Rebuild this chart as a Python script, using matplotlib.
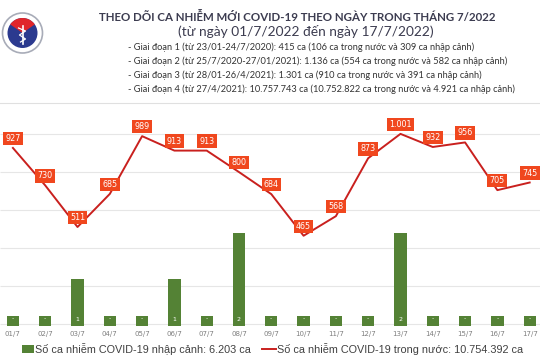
import matplotlib
matplotlib.use("Agg")
import matplotlib.pyplot as plt
from matplotlib.patches import Circle, Wedge, Rectangle
from matplotlib.lines import Line2D

# data
days = ["01/7", "02/7", "03/7", "04/7", "05/7", "06/7", "07/7", "08/7", "09/7",
        "10/7", "11/7", "12/7", "13/7", "14/7", "15/7", "16/7", "17/7"]
trong_nuoc = [927, 730, 511, 685, 989, 913, 913, 800, 684, 465, 568, 873, 1001, 932, 956, 705, 745]
nhap_canh = [0, 0, 1, 0, 0, 1, 0, 2, 0, 0, 0, 0, 2, 0, 0, 0, 0]
grid_vals = [0, 200, 400, 600, 800, 1000]

title = "THEO DÕI CA NHIỄM MỚI COVID-19 THEO NGÀY TRONG THÁNG 7/2022"
subtitle = "(từ ngày 01/7/2022 đến ngày 17/7/2022)"
notes = [
    "- Giai đoạn 1 (từ 23/01-24/7/2020): 415 ca (106 ca trong nước và 309 ca nhập cảnh)",
    "- Giai đoạn 2 (từ 25/7/2020-27/01/2021): 1.136 ca (554 ca trong nước và 582 ca nhập cảnh)",
    "- Giai đoạn 3 (từ 28/01-26/4/2021): 1.301 ca (910 ca trong nước và 391 ca nhập cảnh)",
    "- Giai đoạn 4 (từ 27/4/2021): 10.757.743 ca (10.752.822 ca trong nước và 4.921 ca nhập cảnh)",
]
leg_bar = "Số ca nhiễm COVID-19 nhập cảnh: 6.203 ca"
leg_line = "Số ca nhiễm COVID-19 trong nước: 10.754.392 ca"

green = "#548235"
red_line = "#C9201E"
label_bg = "#F0471E"
W, H = 540, 360


def fmt(v):
    return f"{v:,}".replace(",", ".")


fig = plt.figure(figsize=(5.4, 3.6), dpi=100)
fig.patch.set_facecolor("white")

# header
fig.text(297 / W, 1 - 17 / H, title, ha="center", va="center", fontsize=8.3,
         fontweight="bold", color="#3c3c50", family="Lato")
fig.text(306 / W, 1 - 32 / H, subtitle, ha="center", va="center", fontsize=9.9,
         color="#3c3c50", family="Lato")
for k, s in enumerate(notes):
    fig.text(128 / W, 1 - (47 + 14 * k) / H, s, ha="left", va="center", fontsize=6.7,
             color="#333333", family="Lato")
fig.add_artist(Line2D([0, 1], [1 - 103 / H] * 2, color="#e0e0e0", lw=0.8))

# simple logo
lg = fig.add_axes([0, 1 - 58 / H, 45 / W, 50 / H])
lg.set_xlim(-22.5, 22.5)
lg.set_ylim(-25, 25)
lg.set_aspect("equal")
lg.axis("off")
lg.add_patch(Circle((0, 0), 20, fc="white", ec="#a8acb8", lw=1.2))
lg.add_patch(Circle((0, 0), 15, fc="#2b3a8f", ec="none"))
lg.add_patch(Wedge((0, 0), 15, 35, 145, fc="#e0262b", ec="none"))
lg.plot([0, 0], [-11, 7], color="white", lw=1.2)
lg.plot([-4, 3, -3, 3, -2], [5, 2, -2, -6, -9], color="white", lw=0.9)

# chart
ax = fig.add_axes([0, 1 - 326 / H, 1, 206 / H])
ax2 = ax.twinx()
ax2.set_ylim(-10, 1074)
ax.set_ylim(0, 4.43)
ax.set_xlim(-0.40, 16.32)

ax.hlines(grid_vals, 0, 1, transform=ax2.get_yaxis_transform(), color="#e6e6e6",
          lw=0.8, zorder=0)

bar_h = [v if v > 0 else 0.21 for v in nhap_canh]
ax.bar(range(len(days)), bar_h, width=0.38, color=green, zorder=2)
for i, v in enumerate(nhap_canh):
    ax.text(i, 0.15, str(v) if v > 0 else "-", ha="center", va="center",
            fontsize=4.5, color="white", zorder=3)

ax2.plot(range(len(days)), trong_nuoc, color=red_line, lw=1.4, zorder=3)
for i, v in enumerate(trong_nuoc):
    ax2.annotate(fmt(v), (i, v), xytext=(0, 6.8), textcoords="offset points",
                 ha="center", va="center", fontsize=5.8, color="white", zorder=4,
                 bbox=dict(boxstyle="square,pad=0.28", fc=label_bg, ec="none"))

ax.set_xticks(range(len(days)))
ax.set_xticklabels(days, fontsize=5, color="#7f7f7f")
ax.tick_params(axis="x", length=0, pad=3.6)
ax.set_yticks([])
ax2.set_yticks([])
for a in (ax, ax2):
    for sp in a.spines.values():
        sp.set_visible(False)
ax.patch.set_visible(False)

# legend drawn by hand
fig.add_artist(Rectangle((22 / W, 1 - 353 / H), 12 / W, 8 / H, fc=green, ec="none",
                         transform=fig.transFigure))
fig.text(35 / W, 1 - 349 / H, leg_bar, ha="left", va="center", fontsize=7.8,
         color="#404040", family="Liberation Sans")
fig.add_artist(Line2D([262 / W, 276 / W], [1 - 349 / H] * 2, color=red_line, lw=1.4))
fig.text(277 / W, 1 - 349 / H, leg_line, ha="left", va="center", fontsize=7.8,
         color="#404040", family="Liberation Sans")

fig.savefig("out.png", dpi=100)
